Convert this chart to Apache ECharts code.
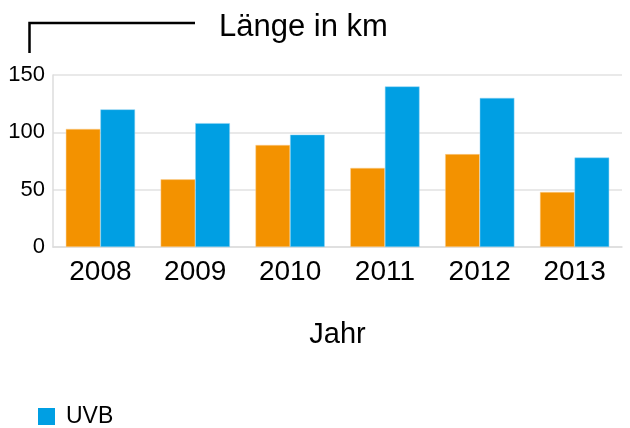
<!DOCTYPE html>
<html>
<head>
<meta charset="utf-8">
<script src="https://cdn.jsdelivr.net/npm/echarts@6/dist/echarts.min.js"></script>
<style>
  html, body { margin: 0; padding: 0; background: #fff; }
  #chart { width: 630px; height: 428px; }
</style>
</head>
<body>
<div id="chart"></div>
<script>
// Daten
const years = ['2008', '2009', '2010', '2011', '2012', '2013'];
const orangeValues = [103, 59, 89, 69, 81, 48];
const uvbValues = [120, 108, 98, 140, 130, 78];
const yTicks = [0, 50, 100, 150];

const FONT = '"Liberation Sans", Helvetica, Arial, sans-serif';

const chart = echarts.init(document.getElementById('chart'));
chart.setOption({
    animation: false,
    textStyle: { fontFamily: FONT },
    title: {
        text: 'Länge in km',
        left: 214, top: 7,
        textStyle: { fontFamily: FONT, fontSize: 31, fontWeight: 'normal', color: '#000' }
    },
    // Klammer oben links
    graphic: [{
        type: 'polyline',
        shape: { points: [[195, 23], [29.5, 23], [29.5, 53]] },
        style: { stroke: '#000', lineWidth: 2.5, fill: null }
    }],
    legend: {
        data: ['UVB'],
        left: 33, top: 400,
        itemWidth: 17, itemHeight: 17, itemGap: 10,
        icon: 'rect',
        itemStyle: { borderWidth: 0 },
        textStyle: { fontFamily: FONT, fontSize: 23, color: '#000', padding: [0, 0, 0, 6] }
    },
    grid: { left: 53, right: 8, top: 75, bottom: 181 },
    xAxis: {
        type: 'category',
        data: years,
        name: 'Jahr',
        nameLocation: 'middle',
        nameGap: 73,
        nameTextStyle: { fontFamily: FONT, fontSize: 29, color: '#000' },
        axisLine: { lineStyle: { color: '#dddddd', width: 1.5 } },
        axisTick: { show: false },
        axisLabel: { fontFamily: FONT, fontSize: 28, color: '#000', margin: 11 }
    },
    yAxis: {
        type: 'value',
        min: yTicks[0], max: yTicks[yTicks.length - 1], interval: 50,
        axisLine: { show: true, lineStyle: { color: '#dddddd', width: 1.5 } },
        axisTick: { show: false },
        splitLine: { lineStyle: { color: '#e2e2e2', width: 1.5 } },
        axisLabel: { fontFamily: FONT, fontSize: 22, color: '#000', margin: 8 }
    },
    series: [
        {
            name: '',
            type: 'bar',
            data: orangeValues,
            barGap: '0%',
            barCategoryGap: '27%',
            itemStyle: { color: '#f39200', borderColor: '#fbd39a', borderWidth: 0.5 }
        },
        {
            name: 'UVB',
            type: 'bar',
            data: uvbValues,
            itemStyle: { color: '#009fe3', borderColor: '#8fd3f3', borderWidth: 0.5 }
        }
    ]
});
</script>
</body>
</html>
